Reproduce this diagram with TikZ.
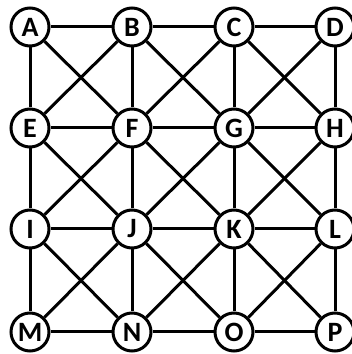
\documentclass[tikz,border=0pt]{standalone}
\usepackage{fontspec}
\setmainfont{Carlito}
\usepackage{tikz}
\usetikzlibrary{positioning, backgrounds}
\tikzset{
  vert/.style = {draw=black, line width=3pt, circle, fill=white, minimum size=38pt,
                 inner sep=0pt, font=\fontsize{28}{30}\selectfont\bfseries},
  edge/.style = {draw=black, line width=3pt}
}

\begin{document}
\begin{tikzpicture}[node distance=102pt, on grid]
  \useasboundingbox (0,0) rectangle (352pt,354pt);

  % --- top row
  \node[vert] at (30pt,327pt) (a) {A};
  \node[vert, right=of a] (b) {B};
  \node[vert, right=of b] (c) {C};
  \node[vert, right=101pt of c] (d) {D};

  % --- second row
  \node[vert, below=101pt of a] (e) {E};
  \node[vert, right=of e] (f) {F};
  \node[vert, right=of f] (g) {G};
  \node[vert, right=101pt of g] (h) {H};

  % --- third row
  \node[vert, below=101pt of e] (i) {I};
  \node[vert, right=of i] (j) {J};
  \node[vert, right=of j] (k) {K};
  \node[vert, right=101pt of k] (l) {L};

  % --- bottom row
  \node[vert, below=103pt of i] (m) {M};
  \node[vert, right=of m] (n) {N};
  \node[vert, right=of n] (o) {O};
  \node[vert, right=101pt of o] (p) {P};

  \begin{scope}[on background layer]
    % rows and columns
    \draw[edge] (a) -- (b) -- (c) -- (d);
    \draw[edge] (e) -- (f) -- (g) -- (h);
    \draw[edge] (i) -- (j) -- (k) -- (l);
    \draw[edge] (m) -- (n) -- (o) -- (p);
    \draw[edge] (a) -- (e) -- (i) -- (m);
    \draw[edge] (b) -- (f) -- (j) -- (n);
    \draw[edge] (c) -- (g) -- (k) -- (o);
    \draw[edge] (d) -- (h) -- (l) -- (p);
    % diagonals
    \draw[edge] (a) -- (f) -- (k) -- (p);
    \draw[edge] (b) -- (g) -- (l);
    \draw[edge] (c) -- (h);
    \draw[edge] (e) -- (j) -- (o);
    \draw[edge] (i) -- (n);
    \draw[edge] (d) -- (g) -- (j) -- (m);
    \draw[edge] (c) -- (f) -- (i);
    \draw[edge] (b) -- (e);
    \draw[edge] (h) -- (k) -- (n);
    \draw[edge] (l) -- (o);
  \end{scope}
\end{tikzpicture}
\end{document}
